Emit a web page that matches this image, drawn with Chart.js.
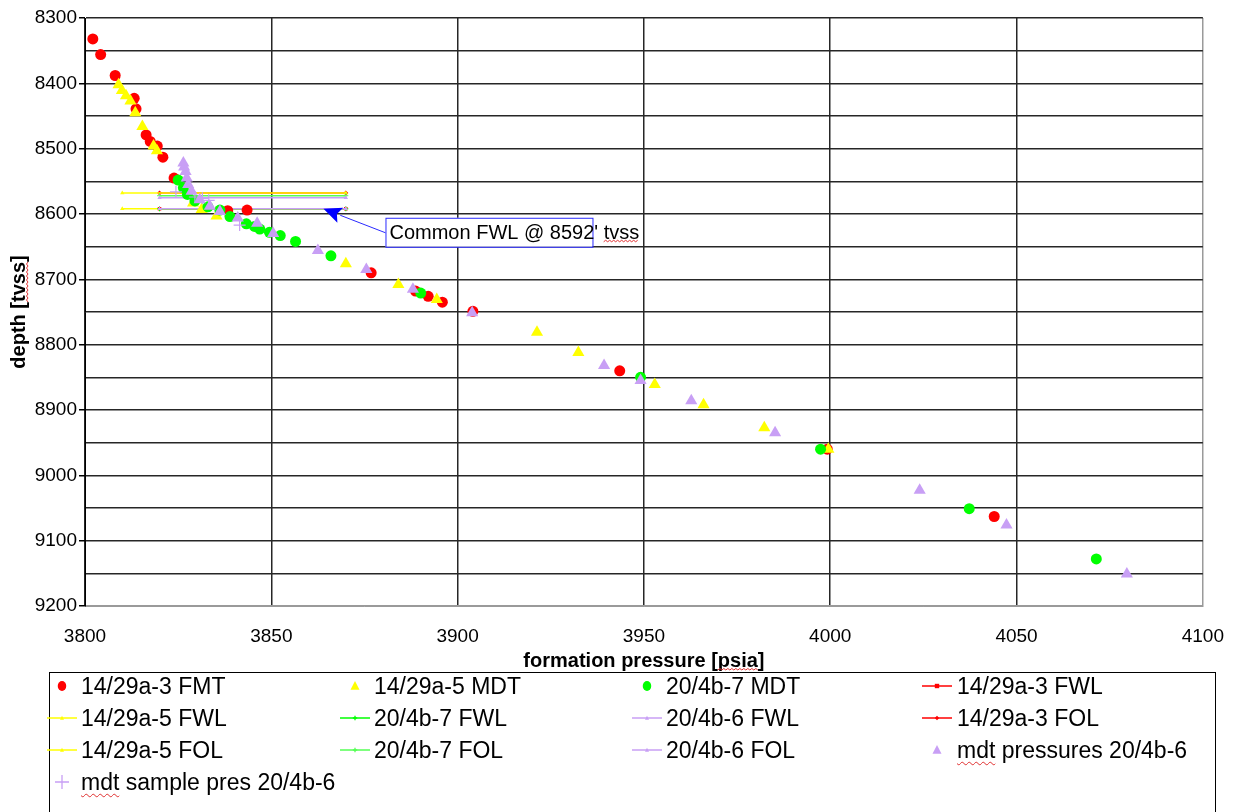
<!DOCTYPE html>
<html>
<head>
<meta charset="utf-8">
<script src="https://cdn.jsdelivr.net/npm/chart.js@4.4.1/dist/chart.umd.min.js"></script>
<style>
  html, body { margin: 0; padding: 0; background: #fff; }
  body { width: 1243px; height: 812px; position: relative; overflow: hidden; font-family: 'Liberation Sans', Arial, sans-serif; }
  #wrap { position: absolute; left: 0; top: 0; width: 1243px; height: 676px; }
  #legenda { position: absolute; left: 49px; top: 672px; width: 1167px; height: 170px; border: 1px solid #000; box-sizing: border-box; }
  .item { position: absolute; height: 28px; font-size: 23px; line-height: 28px; color: #000; white-space: nowrap; }
  .item svg { position: absolute; top: 2px; }
  .ondinha { text-decoration: underline wavy #e03030; text-decoration-thickness: 1px; text-underline-offset: 3px; }
</style>
</head>
<body>
<div id="wrap"><canvas id="grafico"></canvas></div>
<div id="legenda"></div>
<script>
// pressoes (psia) e profundidades (ft tvss)
const fmt1429a3P = [3802.1, 3804.2, 3808.1, 3813.2, 3813.7, 3816.4, 3817.5, 3819.4, 3820.9, 3823.9, 3838.3, 3843.5, 3876.8, 3888.7, 3892.1, 3895.9, 3904.1, 3943.5, 3999.2, 4044.0];
const fmt1429a3D = [8332, 8356, 8388, 8423, 8439, 8479, 8489, 8496, 8513, 8545, 8595, 8594, 8690, 8718, 8726, 8735, 8749, 8840, 8960, 9063];

const mdt1429a5P = [3809.0, 3809.9, 3811.0, 3812.2, 3813.5, 3815.4, 3818.4, 3819.3, 3829.0, 3831.3, 3835.3, 3870.0, 3884.1, 3894.4, 3921.3, 3932.4, 3952.9, 3966.0, 3982.3, 3999.5];
const mdt1429a5D = [8402, 8411, 8419, 8427, 8445, 8466, 8496, 8503, 8583, 8593, 8603, 8676, 8708, 8731, 8781, 8812, 8861, 8892, 8927, 8960];

const mdt204b7P = [3825.0, 3826.4, 3827.5, 3829.5, 3833.0, 3836.2, 3838.9, 3843.3, 3845.5, 3846.9, 3849.5, 3852.4, 3856.5, 3866.0, 3890.1, 3949.1, 3997.4, 4037.3, 4071.4];
const mdt204b7D = [8548, 8560, 8570, 8580, 8589, 8594, 8604, 8615, 8619, 8623, 8628, 8633, 8642, 8664, 8721, 8850, 8960, 9051, 9128];

const mdt204b6P = [3826.4, 3826.6, 3827.0, 3827.3, 3827.7, 3828.6, 3830.8, 3833.5, 3836.2, 3841.0, 3846.2, 3850.5, 3862.5, 3875.5, 3888.0, 3903.9, 3939.3, 3949.1, 3962.7, 3985.2, 4024.0, 4047.3, 4079.6];
const mdt204b6D = [8522, 8528, 8535, 8545, 8555, 8565, 8578, 8588, 8596, 8606, 8614, 8630, 8656, 8685, 8715, 8751, 8832, 8855, 8886, 8935, 9023, 9076, 9151];

const amostra204b6P = [3824.4, 3829.5, 3831.5, 3833.2, 3841.5];
const amostra204b6D = [8566, 8574, 8576, 8579, 8617];

// contatos: FWL e FOL de cada poco (inicio e fim da linha)
const fwl1429a3P = [3820, 3870], fwl1429a3D = [8592, 8592];
const fwl1429a5P = [3810, 3870], fwl1429a5D = [8592, 8592];
const fwl204b7P = [3820, 3870], fwl204b7D = [8592, 8592];
const fwl204b6P = [3820, 3870], fwl204b6D = [8592, 8592];
const fol1429a3P = [3820, 3870], fol1429a3D = [8568, 8568];
const fol1429a5P = [3810, 3870], fol1429a5D = [8568, 8568];
const fol204b7P = [3820, 3870], fol204b7D = [8572, 8572];
const fol204b6P = [3820, 3870], fol204b6D = [8575, 8575];

const setaPressao = 3864;
const setaProf = 8592;
const textoSeta = "Common FWL @ 8592' tvss";
const tituloX = 'formation pressure [psia]';
const tituloY = 'depth [tvss]';

const fonte = "'Liberation Sans', Arial, sans-serif";
const VERMELHO = '#ff0000', AMARELO = '#ffff00', VERDE = '#00ff00', LILAS = '#c89ff5';

function pontos(p, d) {
  return p.map((v, i) => ({ x: v, y: d[i] }));
}

function serie(label, p, d, cor, estilo, raio) {
  return {
    label, data: pontos(p, d), showLine: false,
    pointStyle: estilo, pointRadius: raio, pointHoverRadius: raio,
    backgroundColor: cor, borderColor: cor, pointBorderWidth: estilo === 'cross' ? 1.2 : 0,
    _leg: { tipo: estilo, cor }
  };
}

function linha(label, p, d, cor, estilo) {
  return {
    label, data: pontos(p, d), showLine: true,
    borderColor: cor, backgroundColor: cor, borderWidth: 1.5,
    pointStyle: estilo, pointRadius: 2.5, pointHoverRadius: 2.5, pointBorderWidth: estilo === 'cross' ? 1 : 0,
    _leg: { tipo: 'linha', marca: estilo, cor }
  };
}

const series = [
  serie('14/29a-3 FMT', fmt1429a3P, fmt1429a3D, VERMELHO, 'circle', 5.5),
  serie('14/29a-5 MDT', mdt1429a5P, mdt1429a5D, AMARELO, 'triangle', 7),
  serie('20/4b-7 MDT', mdt204b7P, mdt204b7D, VERDE, 'circle', 5.5),
  linha('14/29a-3 FWL', fwl1429a3P, fwl1429a3D, VERMELHO, 'rect'),
  linha('14/29a-5 FWL', fwl1429a5P, fwl1429a5D, AMARELO, 'triangle'),
  linha('20/4b-7 FWL', fwl204b7P, fwl204b7D, VERDE, 'cross'),
  linha('20/4b-6 FWL', fwl204b6P, fwl204b6D, LILAS, 'triangle'),
  linha('14/29a-3 FOL', fol1429a3P, fol1429a3D, VERMELHO, 'rectRot'),
  linha('14/29a-5 FOL', fol1429a5P, fol1429a5D, AMARELO, 'triangle'),
  linha('20/4b-7 FOL', fol204b7P, fol204b7D, '#55ff55', 'cross'),
  linha('20/4b-6 FOL', fol204b6P, fol204b6D, LILAS, 'triangle'),
  serie('mdt pressures 20/4b-6', mdt204b6P, mdt204b6D, LILAS, 'triangle', 7),
  serie('mdt sample pres 20/4b-6', amostra204b6P, amostra204b6D, LILAS, 'cross', 6)
];
// linhas por baixo dos pontos, serie posterior por cima
series.forEach((s, i) => { s.order = (s.showLine ? 100 : 20) - i; });

// sublinhado ondulado do corretor do Excel
function onda(ctx, x0, x1, y) {
  ctx.save();
  ctx.strokeStyle = '#e03030';
  ctx.lineWidth = 1;
  ctx.beginPath();
  ctx.moveTo(x0, y);
  let sobe = true;
  for (let x = x0 + 2; x <= x1; x += 2) {
    ctx.lineTo(x, sobe ? y - 1.5 : y);
    sobe = !sobe;
  }
  ctx.stroke();
  ctx.restore();
}

const anotacao = {
  id: 'anotacao',
  afterDatasetsDraw(chart) {
    const { ctx, scales: { x, y } } = chart;
    const px = x.getPixelForValue(setaPressao);
    const py = y.getPixelForValue(setaProf);
    const bx = px + 62, by = py + 9, bw = 207, bh = 29;
    ctx.save();
    // caixa
    ctx.fillStyle = '#fff';
    ctx.fillRect(bx, by, bw, bh);
    ctx.strokeStyle = '#2a2aff';
    ctx.lineWidth = 1;
    ctx.strokeRect(bx + 0.5, by + 0.5, bw, bh);
    // seta
    const ax = bx, ay = by + 15;
    const dx = ax - px, dy = ay - py, len = Math.hypot(dx, dy);
    const ux = dx / len, uy = dy / len;
    const cab = 18, larg = 8;
    ctx.beginPath();
    ctx.moveTo(ax, ay);
    ctx.lineTo(px + ux * cab, py + uy * cab);
    ctx.stroke();
    ctx.fillStyle = '#0000ff';
    ctx.beginPath();
    ctx.moveTo(px, py);
    ctx.lineTo(px + ux * cab - uy * larg, py + uy * cab + ux * larg);
    ctx.lineTo(px + ux * cab * 0.8, py + uy * cab * 0.8);
    ctx.lineTo(px + ux * cab + uy * larg, py + uy * cab - ux * larg);
    ctx.closePath();
    ctx.fill();
    // texto
    ctx.fillStyle = '#000';
    ctx.font = '20px ' + fonte;
    ctx.textBaseline = 'middle';
    ctx.textAlign = 'left';
    const tx = bx + 4;
    ctx.fillText(textoSeta, tx, by + bh / 2 + 1);
    const pre = ctx.measureText(textoSeta.slice(0, -4)).width;
    onda(ctx, tx + pre, tx + ctx.measureText(textoSeta).width, by + 24);
    ctx.restore();
  },
  afterDraw(chart) {
    const { ctx, scales: { x, y } } = chart;
    ctx.save();
    ctx.font = 'bold 20px ' + fonte;
    // titulo x: "psia"
    const wx = ctx.measureText(tituloX).width;
    const sx = (x.left + x.right) / 2 - wx / 2 + ctx.measureText('formation pressure [').width;
    onda(ctx, sx, sx + ctx.measureText('psia').width, x.bottom - 6);
    // titulo y: "tvss"
    const wy = ctx.measureText(tituloY).width;
    ctx.translate(y.left + 19, (y.top + y.bottom) / 2);
    ctx.rotate(-Math.PI / 2);
    const sy = -wy / 2 + ctx.measureText('depth [').width;
    onda(ctx, sy, sy + ctx.measureText('tvss').width, 9);
    ctx.restore();
  }
};

const chart = new Chart(document.getElementById('grafico'), {
  type: 'scatter',
  data: { datasets: series },
  options: {
    responsive: true,
    maintainAspectRatio: false,
    animation: false,
    layout: { padding: { top: 18, right: 36, left: 0, bottom: 0 } },
    plugins: { legend: { display: false }, tooltip: { enabled: false } },
    scales: {
      x: {
        type: 'linear', min: 3800, max: 4100,
        ticks: { stepSize: 50, padding: 19, color: '#000', autoSkip: false, maxRotation: 0,
                 font: { family: fonte, size: 19 }, callback: v => String(v) },
        grid: { drawTicks: false, lineWidth: 1.5,
                color: c => (c.tick && c.tick.value === 4100) ? '#9a9a9a' : '#262626' },
        border: { color: '#9a9a9a', width: 1 },
        title: { display: true, text: tituloX, color: '#000',
                 font: { family: fonte, size: 20, weight: 'bold' }, padding: { top: 0, bottom: 3 } },
        afterFit: s => { s.height = 70; }
      },
      y: {
        type: 'linear', reverse: true, min: 8300, max: 9200,
        ticks: { stepSize: 50, padding: 2, color: '#000', autoSkip: false,
                 font: { family: fonte, size: 19 }, callback: v => v % 100 === 0 ? String(v) : '' },
        grid: { lineWidth: 1.5, tickLength: 6,
                color: c => (c.tick && c.tick.value === 9200) ? '#9a9a9a' : '#262626',
                tickColor: c => (c.tick && c.tick.value % 100 === 0) ? '#000' : 'rgba(0,0,0,0)' },
        border: { color: '#000', width: 1 },
        title: { display: true, text: tituloY, color: '#000',
                 font: { family: fonte, size: 20, weight: 'bold' }, padding: { top: 7, bottom: 0 } },
        afterFit: s => { s.width = 85; }
      }
    }
  },
  plugins: [anotacao]
});

// legenda em grade de 4 colunas, como no Excel
const colInicio = [47, 340, 632, 922];
const colTexto = [81, 374, 666, 957];
const linhaCentro = [686, 718, 750, 782];
const legenda = document.getElementById('legenda');
const baseX = 50, baseY = 673;

function marcaSvg(tipo, cor, cx, cy, r) {
  if (tipo === 'circle') return `<ellipse cx="${cx}" cy="${cy}" rx="${r * 0.85}" ry="${r}" fill="${cor}"/>`;
  if (tipo === 'triangle') return `<polygon points="${cx},${cy - r} ${cx + r * 0.9},${cy + r * 0.75} ${cx - r * 0.9},${cy + r * 0.75}" fill="${cor}"/>`;
  if (tipo === 'rect') return `<rect x="${cx - r}" y="${cy - r}" width="${2 * r}" height="${2 * r}" fill="${cor}"/>`;
  if (tipo === 'rectRot') return `<polygon points="${cx},${cy - r} ${cx + r},${cy} ${cx},${cy + r} ${cx - r},${cy}" fill="${cor}"/>`;
  if (tipo === 'cross') return `<path d="M${cx - r} ${cy}H${cx + r}M${cx} ${cy - r}V${cy + r}" stroke="${cor}" stroke-width="1.3"/>`;
  return '';
}

series.forEach((s, i) => {
  const c = i % 4, l = Math.floor(i / 4);
  const div = document.createElement('div');
  div.className = 'item';
  div.style.left = (colInicio[c] - baseX) + 'px';
  div.style.top = (linhaCentro[l] - baseY - 14) + 'px';
  const leg = s._leg;
  let svg;
  if (leg.tipo === 'linha') {
    svg = `<line x1="0" y1="12" x2="30" y2="12" stroke="${leg.cor}" stroke-width="1.5"/>` + marcaSvg(leg.marca, leg.cor, 15, 12, 2.2);
  } else {
    svg = marcaSvg(leg.tipo, leg.cor, 15, 12, leg.tipo === 'cross' ? 7 : 5);
  }
  const rotulo = s.label.replace(/^mdt/, '<span class="ondinha">mdt</span>');
  div.innerHTML = `<svg width="30" height="24">${svg}</svg><span style="position:absolute;left:${colTexto[c] - colInicio[c]}px;">${rotulo}</span>`;
  legenda.appendChild(div);
});
</script>
</body>
</html>
